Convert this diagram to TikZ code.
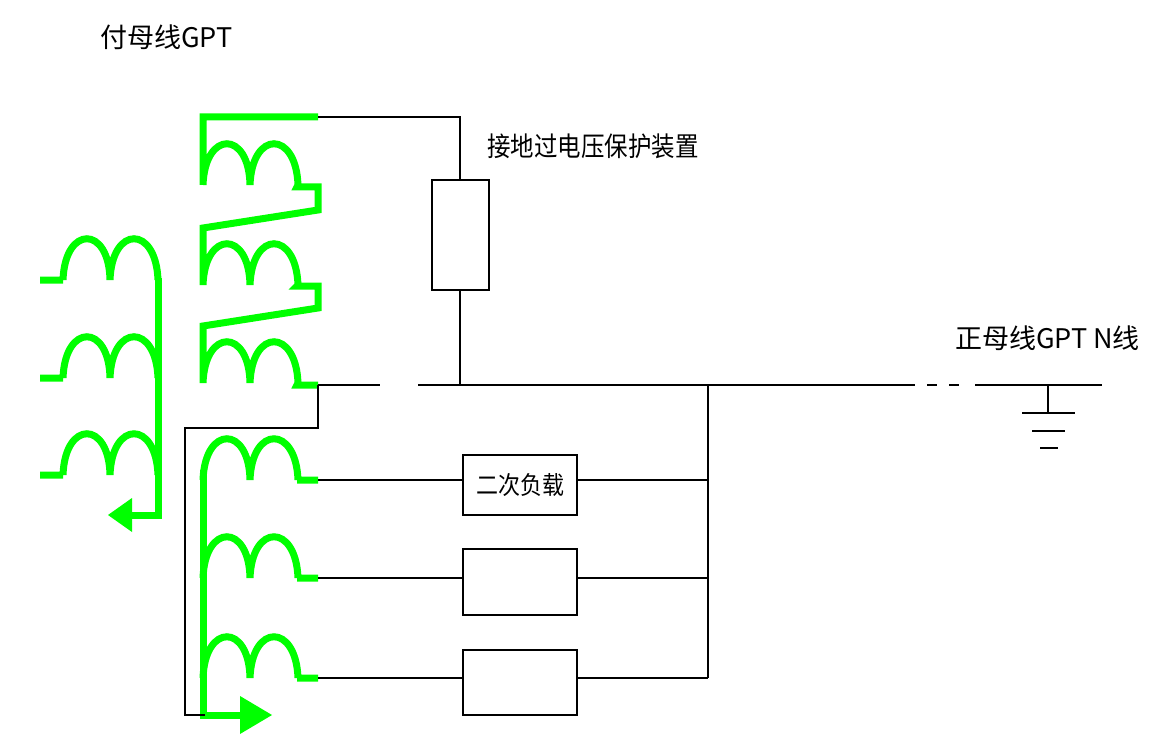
\documentclass[tikz,border=0pt]{standalone}
\usepackage{fontspec}
\newfontfamily\cjk{Noto Sans CJK SC}
\definecolor{wgreen}{RGB}{0,255,0}
\tikzset{
  wind/.style={draw=wgreen,line width=7pt,line join=miter},
  wire/.style={draw=black,line width=2.5pt},
  box/.style={draw=black,line width=2pt,fill=white,inner sep=0pt},
  lbl/.style={font=\cjk\fontsize{27}{27}\selectfont,anchor=west,inner sep=0pt}
}
\newcommand{\humps}[2]{% x, y baseline
  (#1,#2) .. controls (#1+2,#2-55) and (#1+46,#2-55) .. (#1+47,#2)
  .. controls (#1+49,#2-55) and (#1+93,#2-55) .. (#1+95,#2)}
\begin{document}
\begin{tikzpicture}[x=1pt,y=-1pt]
\useasboundingbox (0,0) rectangle (1175,738);
% left winding
\draw[wind] (40,280) -- (63,280) \humps{63}{280};
\draw[wind] (40,378) -- (63,378) \humps{63}{378};
\draw[wind] (40,475) -- (63,475) \humps{63}{475};
\draw[wind] (158,278) -- (158,515) -- (125,515);
\fill[wgreen] (108,515) -- (132,498) -- (132,532) -- cycle;
% top right winding
\draw[wind] (318,117) -- (203,117) -- (203,185) \humps{203}{185} -- (297,187) -- (318,187) -- (318,210) -- (203,228) -- (203,285) \humps{203}{285} -- (297,286) -- (318,286) -- (318,308) -- (203,326) -- (203,383) \humps{203}{383} -- (297,385) -- (318,385);
% bottom winding
\draw[wind] (203,480) \humps{203}{480} -- (297,480) -- (318,480);
\draw[wind] (203,578) \humps{203}{578} -- (297,578) -- (318,578);
\draw[wind] (203,678) \humps{203}{678} -- (297,678) -- (318,678);
\draw[wind] (203,470) -- (203,715) -- (240,715);
\fill[wgreen] (272,715) -- (240,696) -- (240,734) -- cycle;
% nodes
\node[box,minimum width=57pt,minimum height=110pt] (arr) at (460,235) {};
\node[box,minimum width=114pt,minimum height=60pt] (b1) at (520,485) {};
\node[font=\cjk\fontsize{25}{25}\selectfont,xscale=0.88] (b1t) at (b1) {二次负载};
\node[box,minimum width=114pt,minimum height=66pt] (b2) at (520,582) {};
\node[box,minimum width=114pt,minimum height=65pt] (b3) at (520,682) {};
\coordinate (bus) at (708,385);
% wires
\draw[wire] (318,117) -- (460,117) -- (arr.north);
\draw[wire] (arr.south) -- (460,385);
\draw[wire] (318,385) -- (380,385);
\draw[wire] (418,385) -- (905,385);
\draw[wire,dash pattern=on 10pt off 12pt] (905,385) -- (968,385);
\draw[wire] (975,385) -- (1102,385);
\draw[wire] (318,385) -- (318,428) -- (185,428) -- (185,715) -- (205,715);
\draw[wire] (318,480) -- (318,480 -| b1.west);
\draw[wire] (318,578) -- (318,578 -| b2.west);
\draw[wire] (318,678) -- (318,678 -| b3.west);
\draw[wire] (708,480 -| b1.east) -- (708,480);
\draw[wire] (708,578 -| b2.east) -- (708,578);
\draw[wire] (708,678 -| b3.east) -- (708,678);
\draw[wire] (bus) -- (708,678);
% ground
\draw[wire] (1048,385) -- (1048,413);
\draw[wire] (1022,413) -- (1075,413);
\draw[wire] (1032,431) -- (1065,431);
\draw[wire] (1040,448) -- (1058,448);
% labels
\node[lbl] (t1) at (100,37) {付母线GPT};
\node[lbl,xscale=0.87] (t2) at (487,146) {接地过电压保护装置};
\node[lbl] (t3) at (955,338) {正母线GPT N线};
\end{tikzpicture}
\end{document}
